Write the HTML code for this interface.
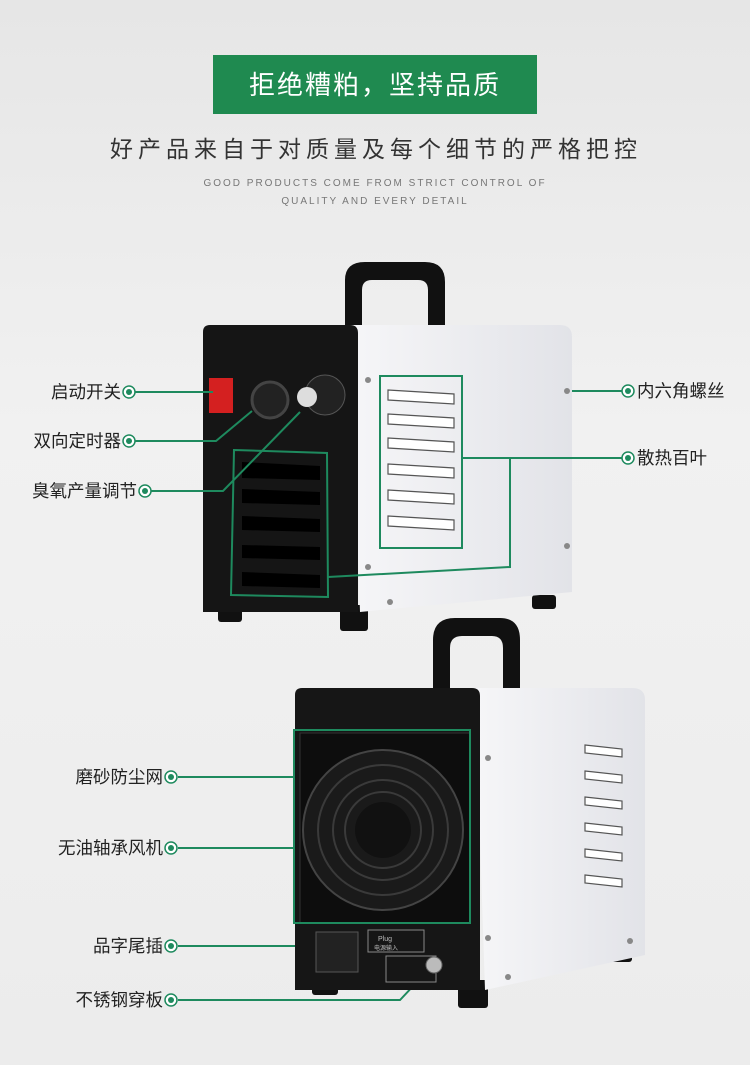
<!DOCTYPE html>
<html><head><meta charset="utf-8"><style>
body{margin:0;width:750px;height:1065px;overflow:hidden;background:linear-gradient(#e6e6e6,#f1f1f1 40%,#ececec);font-family:"Liberation Sans","Noto Sans CJK SC",sans-serif}
svg{position:absolute;left:0;top:0}
</style></head><body>
<svg width="750" height="1065" viewBox="0 0 750 1065" font-family="Liberation Sans, Noto Sans CJK SC, sans-serif">
<defs>
<linearGradient id="w" x1="0" x2="1"><stop offset="0" stop-color="#f6f6f8"/><stop offset="1" stop-color="#e2e3e8"/></linearGradient>
</defs>
<rect x="213" y="55" width="324" height="59" fill="#1f8a50"/>
<text x="375" y="94" fill="#fff" font-size="26" text-anchor="middle" letter-spacing="2">拒绝糟粕，坚持品质</text>
<text x="376" y="157" fill="#333" font-size="23" text-anchor="middle" letter-spacing="5">好产品来自于对质量及每个细节的严格把控</text>
<text x="375" y="186" fill="#777" font-size="10" text-anchor="middle" letter-spacing="2">GOOD PRODUCTS COME FROM STRICT CONTROL OF</text>
<text x="375" y="204" fill="#777" font-size="10" text-anchor="middle" letter-spacing="2">QUALITY AND EVERY DETAIL</text>

<!-- machine 1 -->
<path d="M345 328 V280 Q345 262 365 262 H425 Q445 262 445 282 V328 H428 V290 Q428 280 418 280 H372 Q362 280 362 290 V328Z" fill="#111"/>
<rect x="218" y="605" width="24" height="17" rx="3" fill="#111"/>
<rect x="340" y="605" width="28" height="26" rx="3" fill="#111"/>
<rect x="532" y="595" width="24" height="14" rx="3" fill="#111"/>
<path d="M350 325 H560 Q572 325 572 337 V592 L360 612Z" fill="url(#w)"/>
<path d="M210 325 H350 Q358 325 358 333 V612 L203 612 V332 Q203 325 210 325Z" fill="#151515"/>
<rect x="209" y="378" width="24" height="35" fill="#d42020"/>
<circle cx="270" cy="400" r="18" fill="#222" stroke="#444" stroke-width="3"/>
<circle cx="325" cy="395" r="20" fill="#222" stroke="#555" stroke-width="1"/>
<circle cx="307" cy="397" r="10" fill="#ddd"/>
<g fill="#000"><path d="M242 462 L320 466 V480 L242 478Z"/><path d="M242 489 L320 492 V505 L242 503Z"/><path d="M242 516 L320 519 V532 L242 530Z"/><path d="M242 545 L320 547 V560 L242 558Z"/><path d="M242 572 L320 575 V588 L242 586Z"/></g>
<g fill="#fff" stroke="#555" stroke-width="1.2"><path d="M388 390 L454 394 V404 L388 400Z"/><path d="M388 414 L454 418 V428 L388 424Z"/><path d="M388 438 L454 442 V452 L388 448Z"/><path d="M388 464 L454 468 V478 L388 474Z"/><path d="M388 490 L454 494 V504 L388 500Z"/><path d="M388 516 L454 520 V530 L388 526Z"/></g>
<g fill="#888"><circle cx="368" cy="380" r="3"/><circle cx="567" cy="391" r="3"/><circle cx="567" cy="546" r="3"/><circle cx="368" cy="567" r="3"/><circle cx="390" cy="602" r="3"/></g>

<g stroke="#1e8a5e" stroke-width="2" fill="none">
<rect x="380" y="376" width="82" height="172"/>
<path d="M234 450 L327 453 L328 597 L231 595Z"/>
<path d="M135 392 H213"/>
<path d="M135 441 H216 L252 411"/>
<path d="M150 491 H223 L300 412"/>
<path d="M572 391 H622"/>
<path d="M462 458 H622 M510 458 V567 L328 577"/>
<path d="M178 777 H295"/>
<path d="M178 848 H330"/>
<path d="M178 946 H322"/>
<path d="M178 1000 H400 L432 966"/>
</g>
<g fill="#fff" stroke="#1e8a5e" stroke-width="1.5">
<circle cx="129" cy="392" r="6"/><circle cx="129" cy="441" r="6"/><circle cx="145" cy="491" r="6"/>
<circle cx="628" cy="391" r="6"/><circle cx="628" cy="458" r="6"/>
<circle cx="171" cy="777" r="6"/><circle cx="171" cy="848" r="6"/><circle cx="171" cy="946" r="6"/><circle cx="171" cy="1000" r="6"/>
</g>
<g fill="#1e8a5e">
<circle cx="129" cy="392" r="3"/><circle cx="129" cy="441" r="3"/><circle cx="145" cy="491" r="3"/>
<circle cx="628" cy="391" r="3"/><circle cx="628" cy="458" r="3"/>
<circle cx="171" cy="777" r="3"/><circle cx="171" cy="848" r="3"/><circle cx="171" cy="946" r="3"/><circle cx="171" cy="1000" r="3"/>
</g>
<g fill="#222" font-size="17.5">
<text x="121" y="398" text-anchor="end">启动开关</text>
<text x="121" y="447" text-anchor="end">双向定时器</text>
<text x="137" y="497" text-anchor="end">臭氧产量调节</text>
<text x="637" y="397">内六角螺丝</text>
<text x="637" y="464">散热百叶</text>
<text x="163" y="783" text-anchor="end">磨砂防尘网</text>
<text x="163" y="854" text-anchor="end">无油轴承风机</text>
<text x="163" y="952" text-anchor="end">品字尾插</text>
<text x="163" y="1006" text-anchor="end">不锈钢穿板</text>
</g>

<!-- machine 2 -->
<path d="M433 690 V640 Q433 618 455 618 H500 Q520 618 520 640 V690 H503 V648 Q503 636 492 636 H462 Q450 636 450 648 V690Z" fill="#111"/>
<rect x="312" y="975" width="26" height="20" rx="3" fill="#111"/>
<rect x="458" y="980" width="30" height="28" rx="3" fill="#111"/>
<rect x="610" y="948" width="22" height="14" rx="3" fill="#111"/>
<path d="M475 688 H632 Q645 688 645 700 V955 L485 990Z" fill="url(#w)"/>
<path d="M302 688 H472 Q480 688 480 696 V990 H295 V695 Q295 688 302 688Z" fill="#161616"/>
<rect x="300" y="733" width="170" height="190" fill="#0d0d0d" stroke="#333"/>
<circle cx="383" cy="830" r="80" fill="#1a1a1a" stroke="#444" stroke-width="2"/>
<g fill="none" stroke="#3a3a3a" stroke-width="2"><circle cx="383" cy="830" r="65"/><circle cx="383" cy="830" r="50"/><circle cx="383" cy="830" r="38"/></g>
<circle cx="383" cy="830" r="28" fill="#111"/>
<rect x="316" y="932" width="42" height="40" fill="#222" stroke="#555"/>
<rect x="368" y="930" width="56" height="22" fill="none" stroke="#888"/>
<text x="378" y="941" fill="#bbb" font-size="7">Plug</text><text x="374" y="950" fill="#bbb" font-size="6">电源输入</text>
<rect x="386" y="956" width="50" height="26" fill="none" stroke="#888"/>
<circle cx="434" cy="965" r="8" fill="#bbb" stroke="#666"/>
<g fill="#fff" stroke="#555" stroke-width="1.2"><path d="M585 745 L622 749 V757 L585 753Z"/><path d="M585 771 L622 775 V783 L585 779Z"/><path d="M585 797 L622 801 V809 L585 805Z"/><path d="M585 823 L622 827 V835 L585 831Z"/><path d="M585 849 L622 853 V861 L585 857Z"/><path d="M585 875 L622 879 V887 L585 883Z"/></g>
<g fill="#888"><circle cx="488" cy="758" r="3"/><circle cx="488" cy="938" r="3"/><circle cx="508" cy="977" r="3"/><circle cx="630" cy="941" r="3"/></g>
<rect x="294" y="730" width="176" height="193" fill="none" stroke="#1e8a5e" stroke-width="2"/>
</svg>
</body></html>
